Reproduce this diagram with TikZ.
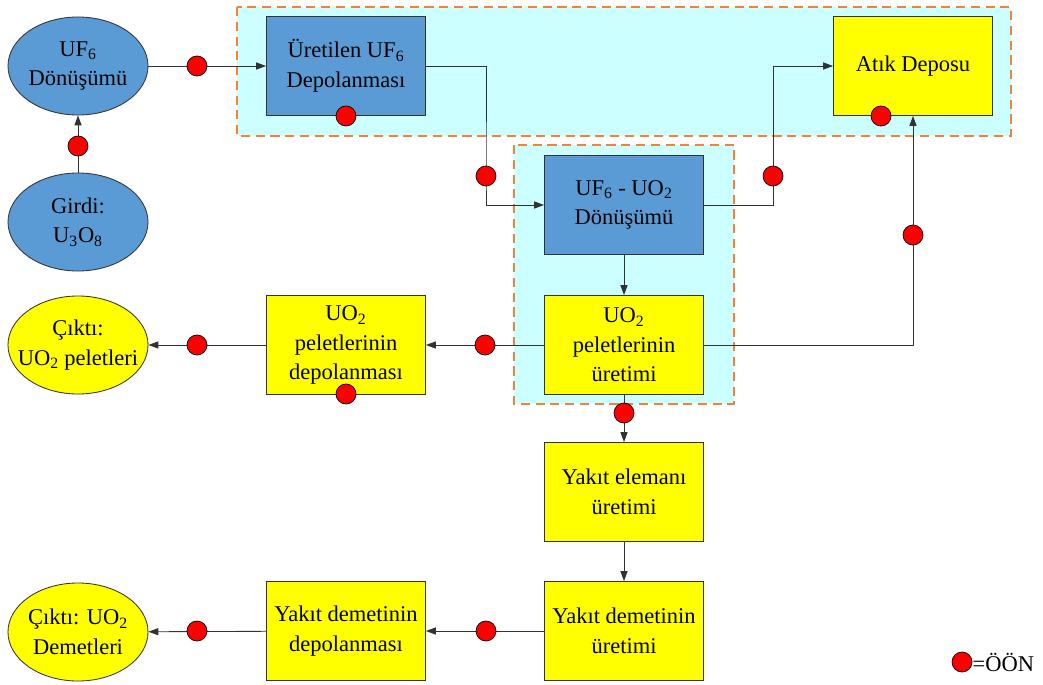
\documentclass[tikz,border=0pt]{standalone}
\usepackage{fontspec}
\setmainfont{Liberation Serif}
\usetikzlibrary{arrows.meta,shapes.geometric}
\definecolor{kmavi}{RGB}{91,155,213}
\definecolor{ksari}{RGB}{255,255,0}
\definecolor{kcamgobegi}{RGB}{204,255,255}
\definecolor{kturuncu}{RGB}{240,130,60}
\definecolor{kcizgi}{RGB}{50,50,50}

\begin{document}
\begin{tikzpicture}[x=0.025cm,y=-0.025cm,
  kutu/.style={draw=kcizgi,line width=0.6pt,minimum width=3.975cm,minimum height=2.475cm,
    align=center,inner sep=1pt,font=\fontsize{16}{21}\selectfont},
  mavikutu/.style={kutu,fill=kmavi},
  sarikutu/.style={kutu,fill=ksari},
  elips/.style={ellipse,draw=kcizgi,line width=0.6pt,minimum width=3.5cm,minimum height=2.45cm,
    inner xsep=-14pt,inner ysep=-4pt,align=center,font=\fontsize{16}{21}\selectfont},
  ok/.style={-{Triangle[length=7pt,width=5pt]},line width=0.6pt,draw=kcizgi},
  oon/.style={circle,draw=black,fill=red,minimum size=0.5cm,inner sep=0pt,line width=0.5pt},
  bolge/.style={fill=kcamgobegi,draw=kturuncu,line width=1.8pt,dash pattern=on 6.5pt off 4pt}]
\useasboundingbox (0,0) rectangle (1043,684);

% kesikli bolgeler
\draw[bolge] (237,7) rectangle (1011,136);
\draw[bolge] (514,145) rectangle (734,404);

% dugumler
\node[elips,fill=kmavi] (uf6) at (78,66) {UF\textsubscript{6}\\Dönüşümü};
\node[elips,fill=kmavi] (girdi) at (78,222) {Girdi:\\U\textsubscript{3}O\textsubscript{8}};
\node[elips,fill=ksari] (cikti1) at (78,345) {Çıktı:\\UO\textsubscript{2} peletleri};
\node[elips,fill=ksari] (cikti2) at (78,632) {Çıktı: UO\textsubscript{2}\\Demetleri};
\node[mavikutu] (uret) at (346,66) {Üretilen UF\textsubscript{6}\\Depolanması};
\node[sarikutu] (atik) at (913,66) {Atık Deposu};
\node[mavikutu] (donusum) at (624,205) {UF\textsubscript{6} - UO\textsubscript{2}\\Dönüşümü};
\node[sarikutu] (uretim) at (624,345) {UO\textsubscript{2}\\peletlerinin\\üretimi};
\node[sarikutu] (depo) at (346,345) {UO\textsubscript{2}\\peletlerinin\\depolanması};
\node[sarikutu] (eleman) at (624,492) {Yakıt elemanı\\üretimi};
\node[sarikutu] (demet) at (624,631) {Yakıt demetinin\\üretimi};
\node[sarikutu] (demdepo) at (346,631) {Yakıt demetinin\\depolanması};

% baglantilar
\coordinate (k1) at (486,176);
\coordinate (k2) at (773,176);
\draw[ok] (girdi) -- (uf6);
\draw[ok] (uf6) -- (uret);
\draw[ok] (uret.east) -| (k1) |- (donusum.west);
\draw[ok] (donusum.east) -| (k2) |- (atik.west);
\draw[ok] (donusum) -- (uretim);
\draw[ok] (uretim.east) -| (atik.south);
\draw[ok] (uretim) -- (depo);
\draw[ok] (depo) -- (cikti1);
\draw[ok] (uretim) -- (eleman);
\draw[ok] (eleman) -- (demet);
\draw[ok] (demet) -- (demdepo);
\draw[ok] (demdepo) -- (cikti2);

% OON noktalari
\node[oon] (n1) at (78,146) {};
\node[oon] (n2) at (197,66) {};
\node[oon] (n3) at (346,116) {};
\node[oon] (n4) at (k1) {};
\node[oon] (n5) at (k2) {};
\node[oon] (n6) at (881,116) {};
\node[oon] (n7) at (913,235) {};
\node[oon] (n8) at (485,345) {};
\node[oon] (n9) at (197,345) {};
\node[oon] (n10) at (346,394) {};
\node[oon] (n11) at (624,413) {};
\node[oon] (n12) at (486,631) {};
\node[oon] (n13) at (197,631) {};

% aciklama
\node[oon] (lej) at (962,662) {};
\node[anchor=west,inner sep=0pt,font=\fontsize{16}{21}\selectfont] (lejyazi) at (lej.east) {=ÖÖN};
\end{tikzpicture}
\end{document}
